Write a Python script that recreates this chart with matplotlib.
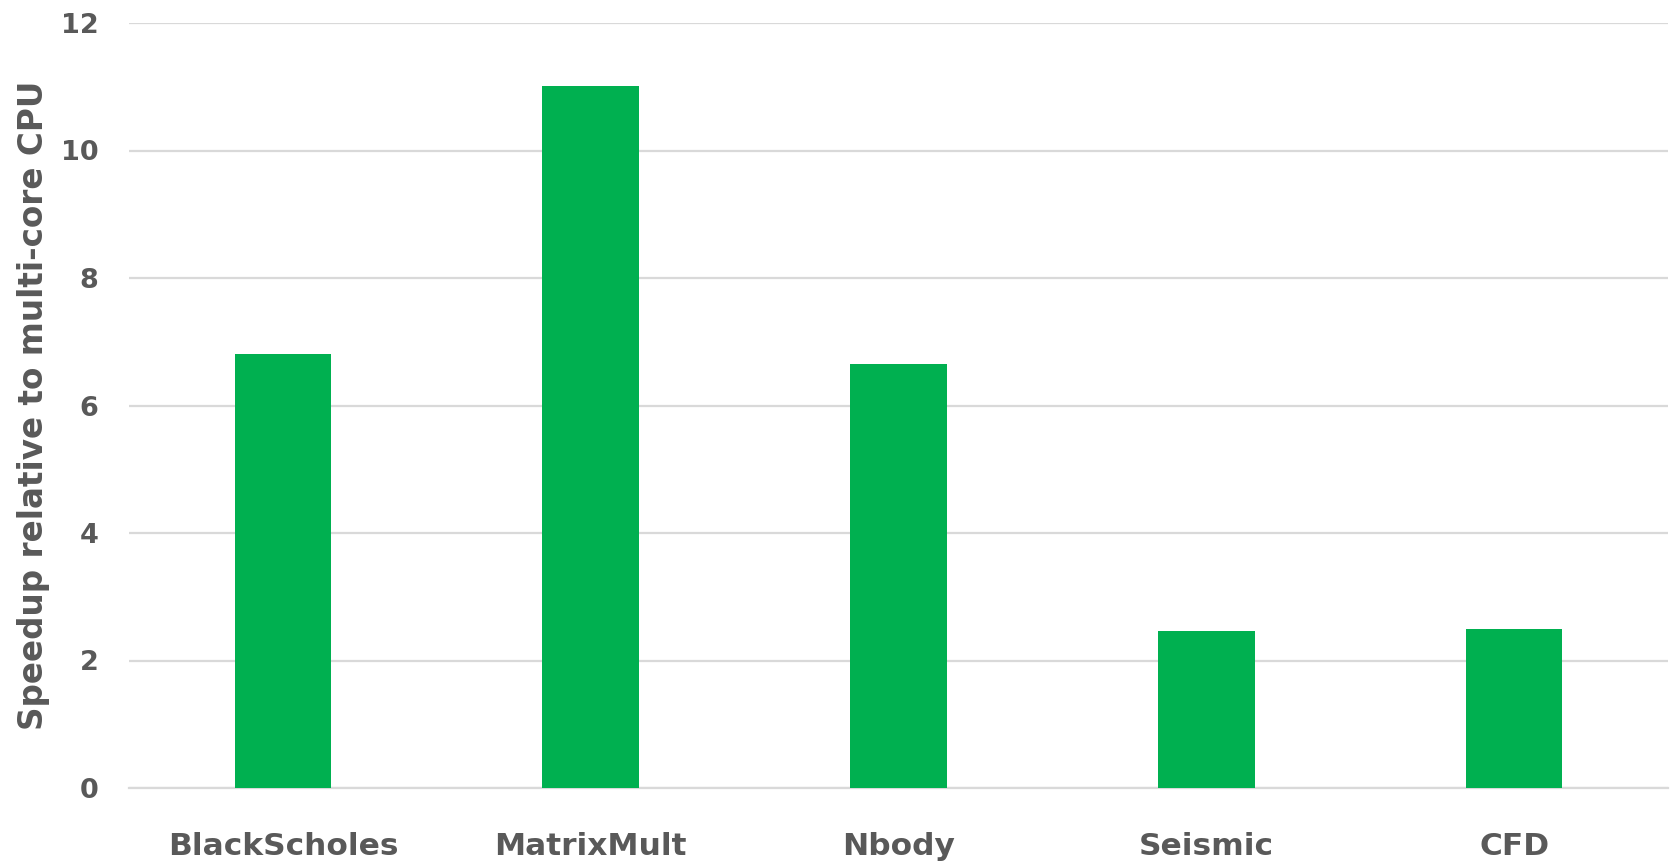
import matplotlib
matplotlib.use("Agg")
import matplotlib.pyplot as plt

categories = ["BlackScholes", "MatrixMult", "Nbody", "Seismic", "CFD"]
speedup = [6.81, 11.01, 6.65, 2.46, 2.50]
yticks = [0, 2, 4, 6, 8, 10, 12]

plt.rcParams['font.family'] = ['DejaVu Sans']
text_color = "#595959"

fig = plt.figure(figsize=(16.73, 8.67), dpi=100)
ax = fig.add_axes([129/1673, 1 - 788/867, (1668 - 129)/1673, (788 - 23)/867])

x = list(range(len(categories)))
ax.bar(x, speedup, width=0.314, color="#00B050", zorder=3)

ax.set_xlim(-0.5, len(categories) - 0.5)
ax.set_ylim(0, 12)
ax.set_yticks(yticks)
ax.set_yticklabels([str(v) for v in yticks])
ax.set_xticks(x)
ax.set_xticklabels(categories)

ax.grid(axis="y", color="#d9d9d9", linewidth=1.6, zorder=0)
ax.set_axisbelow(True)
for s in ["top", "right", "left"]:
    ax.spines[s].set_visible(False)
ax.spines["bottom"].set_color("#d9d9d9")
ax.spines["bottom"].set_linewidth(1.6)

ax.tick_params(axis="both", length=0, colors=text_color)
ax.tick_params(axis="x", pad=32, labelsize=22.5)
ax.tick_params(axis="y", pad=22, labelsize=19.5)
for lab in ax.get_xticklabels() + ax.get_yticklabels():
    lab.set_fontweight("bold")

ax.set_ylabel("Speedup relative to multi-core CPU", fontsize=23.5, fontweight="bold",
              color=text_color)
ax.yaxis.set_label_coords(-(129 - 50) / (1668 - 129), 0.5)

fig.savefig("out.png", dpi=100, facecolor="white")
